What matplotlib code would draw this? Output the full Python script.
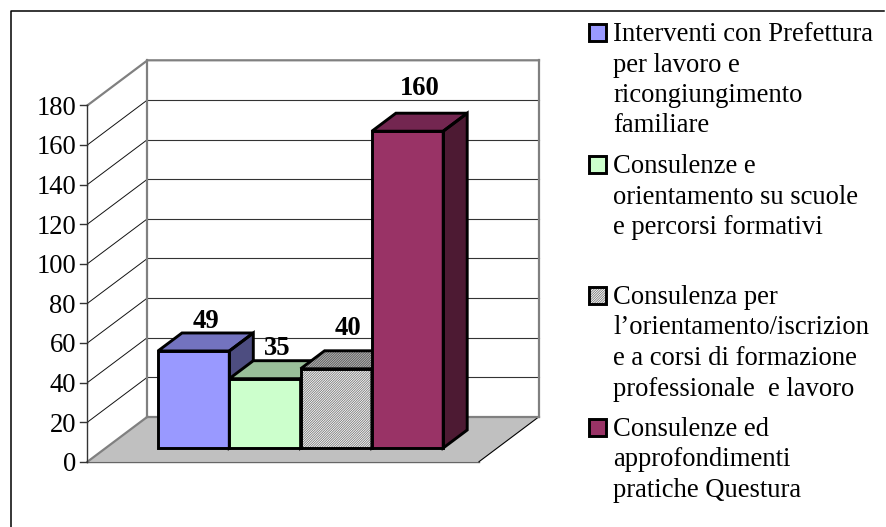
import matplotlib
matplotlib.use('Agg')
import matplotlib.pyplot as plt
from matplotlib.patches import Polygon

plt.rcParams['font.family'] = ['Liberation Serif', 'DejaVu Serif']
plt.rcParams['hatch.linewidth'] = 0.6

### Data
values = [49, 35, 40, 160]
y_ticks = [0, 20, 40, 60, 80, 100, 120, 140, 160, 180]
legend_labels = [
    ['Interventi con Prefettura', 'per lavoro e', 'ricongiungimento', 'familiare'],
    ['Consulenze e', 'orientamento su scuole', 'e percorsi formativi'],
    ['Consulenza per', 'l\u2019orientamento/iscrizion', 'e a corsi di formazione', 'professionale  e lavoro'],
    ['Consulenze ed', 'approfondimenti', 'pratiche Questura'],
]
front_colors = ['#9999ff', '#ccffcc', '#ffffff', '#993366']
top_colors = ['#7373bf', '#99bf99', '#bdbdbd', '#732650']
side_colors = ['#4d4d80', '#668066', '#808080', '#4d1a33']

### Layout (px)
W, H = 887, 527
PX_PER_UNIT = 1.98
Y0 = 461.7
X0 = 87.5
WALL_DX, WALL_DY = 60, 45
BAR_LEFT, BAR_W = 158, 71.3
BAR_BASE_LIFT = 13.7
BAR_DX, BAR_DY = 24, 18
WALL_W = 391.5
LABEL_LIFT = [5, 6, 16, 18]
FONT = 19.2
DENSE = '/' * 14


def py(v):
    """value -> pixel row on the front plane"""
    return Y0 - v * PX_PER_UNIT


fig = plt.figure(figsize=(W / 100, H / 100), dpi=100)
ax = fig.add_axes([0, 0, 1, 1])
ax.set_xlim(0, W)
ax.set_ylim(H, 0)
ax.axis('off')

# outer frame
ax.plot([11, 11, 884], [H, 11, 11], color='black', lw=1.1, zorder=1)

# floor
floor = [(X0, Y0), (X0 + WALL_DX, Y0 - WALL_DY),
         (X0 + WALL_DX + WALL_W, Y0 - WALL_DY), (X0 + WALL_W, Y0)]
ax.add_patch(Polygon(floor, closed=True, fc='#c0c0c0', ec='none', zorder=2))
ax.plot([X0, X0 + WALL_W], [Y0, Y0], color='#666666', lw=1.0, zorder=2)
ax.plot([X0 + WALL_DX + WALL_W, X0 + WALL_W], [Y0 - WALL_DY, Y0], color='black', lw=0.8, zorder=2)

# gridlines on the wall, and along the side wall
for t in y_ticks:
    y = py(t)
    if 0 < t < 180:
        ax.plot([X0 + WALL_DX, X0 + WALL_DX + WALL_W], [y - WALL_DY, y - WALL_DY], color='#333333', lw=0.8, zorder=2)
        ax.plot([X0, X0 + WALL_DX], [y, y - WALL_DY], color='#111111', lw=0.7, zorder=2)
    ax.plot([X0 - 7, X0], [y, y], color='#333333', lw=1.0, zorder=3)
    ax.text(X0 - 11.5, y, str(t), ha='right', va='center_baseline', fontsize=FONT, color='black', zorder=5)

# wall edges
top = py(180) - WALL_DY
ax.plot([X0, X0 + WALL_DX, X0 + WALL_DX + WALL_W], [py(180), top, top], color='#808080', lw=1.6, zorder=2)
ax.plot([X0 + WALL_DX] * 2, [top, Y0 - WALL_DY], color='#808080', lw=1.6, zorder=2)
ax.plot([X0 + WALL_DX + WALL_W] * 2, [top, Y0 - WALL_DY], color='#808080', lw=1.6, zorder=2)
ax.plot([X0 + WALL_DX, X0 + WALL_DX + WALL_W], [Y0 - WALL_DY] * 2, color='#808080', lw=1.6, zorder=2)
ax.plot([X0 + WALL_DX, X0], [Y0 - WALL_DY, Y0], color='#808080', lw=1.6, zorder=2)
ax.plot([X0, X0], [py(180), Y0], color='#333333', lw=1.0, zorder=3)

# bars
base = Y0 - BAR_BASE_LIFT
for i, v in enumerate(values):
    x1 = BAR_LEFT + i * BAR_W
    x2 = x1 + BAR_W
    yt = base - v * PX_PER_UNIT
    front = [(x1, base), (x1, yt), (x2, yt), (x2, base)]
    topf = [(x1, yt), (x1 + BAR_DX, yt - BAR_DY), (x2 + BAR_DX, yt - BAR_DY), (x2, yt)]
    side = [(x2, base), (x2, yt), (x2 + BAR_DX, yt - BAR_DY), (x2 + BAR_DX, base - BAR_DY)]
    z = 4 + 0.1 * i
    hatched = i == 2
    ax.add_patch(Polygon(side, closed=True, fc=side_colors[i], ec='none', zorder=z))
    ax.add_patch(Polygon(topf, closed=True, fc=top_colors[i], ec='none', zorder=z))
    ax.add_patch(Polygon(front, closed=True, fc=front_colors[i], ec='none', zorder=z))
    if hatched:
        ax.add_patch(Polygon(front, closed=True, fc='none', ec='#777777', lw=0, hatch=DENSE, zorder=z))
        ax.add_patch(Polygon(topf, closed=True, fc='none', ec='#555555', lw=0, hatch=DENSE, zorder=z))
    for poly in (side, topf, front):
        ax.add_patch(Polygon(poly, closed=True, fc='none', ec='black', lw=2.1, joinstyle='miter', zorder=z + 0.01))
    ax.text((x1 + x2) / 2 + 12, yt - BAR_DY - LABEL_LIFT[i], str(v), ha='center', va='baseline',
            fontsize=FONT, fontweight='bold', color='black', zorder=6)

# legend, drawn by hand because of the uneven row spacing
LEG_BOX_X, LEG_TEXT_X, LEG_BOX = 589.5, 613, 17
leg_baselines = [41, 173, 304, 436]
LINE_H = 30.5
for lines, yb, fc, hatched in zip(legend_labels, leg_baselines, front_colors, [0, 0, 1, 0]):
    box = [(LEG_BOX_X, yb - LEG_BOX), (LEG_BOX_X + LEG_BOX, yb - LEG_BOX),
           (LEG_BOX_X + LEG_BOX, yb), (LEG_BOX_X, yb)]
    ax.add_patch(Polygon(box, closed=True, fc=fc, ec='#777777', lw=0,
                         hatch=DENSE if hatched else None, zorder=4))
    ax.add_patch(Polygon(box, closed=True, fc='none', ec='black', lw=2.1, zorder=5))
    for k, line in enumerate(lines):
        ax.text(LEG_TEXT_X, yb + k * LINE_H, line, ha='left', va='baseline', fontsize=FONT,
                color='black', zorder=5)

plt.savefig('out.png', dpi=100)
plt.close()
